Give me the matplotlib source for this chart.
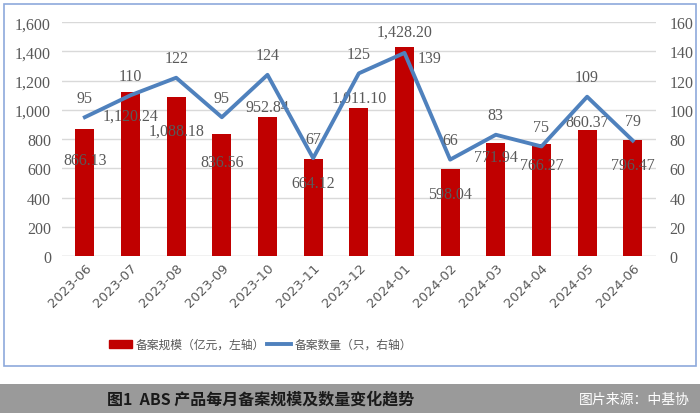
import matplotlib.pyplot as plt
from matplotlib.patches import Rectangle
from matplotlib.lines import Line2D

plt.rcParams['font.family'] = ['Noto Sans CJK SC', 'DejaVu Sans']

# data
months = ['2023-06', '2023-07', '2023-08', '2023-09', '2023-10', '2023-11', '2023-12',
          '2024-01', '2024-02', '2024-03', '2024-04', '2024-05', '2024-06']
scale = [866.13, 1120.24, 1088.18, 836.56, 952.84, 664.12, 1011.10,
         1428.20, 598.04, 771.94, 766.27, 860.37, 796.47]
count = [95, 110, 122, 95, 124, 67, 125, 139, 66, 83, 75, 109, 79]

# label offsets (points) to mimic the original placement
bar_dy = [-22, -17, -24, -20, 7, -17, 8, 11, -18, -10, -15, 6, -18]
line_off = [(0, 14), (0, 14), (0, 14), (0, 14), (0, 14), (0, 14), (0, 14),
            (18, -4), (0, 14), (0, 14), (0, 14), (0, 14), (0, 14)]

grey = '#595959'
bar_c = '#C00000'
line_c = '#4F81BD'
num_font = ['Liberation Serif', 'DejaVu Serif']

fig = plt.figure(figsize=(7, 4.14), dpi=100)
ax = fig.add_axes([0.0886, 0.379, 0.848, 0.565])
x = list(range(len(months)))

ax.bar(x, scale, width=0.42, color=bar_c, zorder=2)
ax.set_xlim(-0.5, len(months) - 0.5)
ax.set_ylim(0, 1600)
ax.set_yticks(range(0, 1601, 200))
ax.set_yticklabels([f'{v:,}' for v in range(0, 1601, 200)], family=num_font,
                   fontsize=11.5, color=grey)
ax.yaxis.grid(True, color='#D9D9D9', lw=1, zorder=0)
for s in ax.spines.values():
    s.set_visible(False)
ax.tick_params(axis='both', length=0)
ax.tick_params(axis='y', pad=8)
ax.set_xticks(x)
ax.set_xticklabels(months, rotation=45, ha='right', rotation_mode='anchor',
                   fontsize=9.5, color=grey, family=['DejaVu Sans'])
ax.axhline(0, color='#D9D9D9', lw=1, zorder=1)

for xi, v, dy in zip(x, scale, bar_dy):
    ax.annotate(f'{v:,.2f}', (xi, v), xytext=(0, dy), textcoords='offset points',
                ha='center', va='center', fontsize=11.5, color=grey, family=num_font,
                zorder=5)

ax2 = ax.twinx()
ax2.plot(x, count, color=line_c, lw=2.8, zorder=3)
ax2.set_ylim(0, 160)
ax2.set_yticks(range(0, 161, 20))
ax2.set_yticklabels([str(v) for v in range(0, 161, 20)], family=num_font,
                    fontsize=11.5, color=grey)
ax2.tick_params(axis='y', length=0, pad=10)
for s in ax2.spines.values():
    s.set_visible(False)
for xi, v, (ox, oy) in zip(x, count, line_off):
    ax2.annotate(str(v), (xi, v), xytext=(ox, oy), textcoords='offset points',
                 ha='center', va='center', fontsize=11.5, color=grey, family=num_font)

handles = [Rectangle((0, 0), 1, 1, color=bar_c),
           Line2D([0], [0], color=line_c, lw=2.8)]
fig.legend(handles, ['备案规模（亿元，左轴）', '备案数量（只，右轴）'],
           loc='center', bbox_to_anchor=(0.372, 0.166), ncol=2, frameon=False,
           fontsize=8.5, labelcolor=grey, handlelength=2.0, handletextpad=0.3,
           columnspacing=0.2)

# chart border
fig.patches.append(Rectangle((4 / 700, 1 - 367 / 414), 692 / 700, 362 / 414,
                             transform=fig.transFigure, fill=False,
                             edgecolor='#8EA9DB', lw=1.2))
# caption banner
fig.patches.append(Rectangle((0, 0), 1, 29 / 414, transform=fig.transFigure,
                             facecolor='#9A9A9A', edgecolor='none'))
fig.text(0.372, 14 / 414, '图1  ABS 产品每月备案规模及数量变化趋势', ha='center',
         va='center', fontsize=11.5, fontweight='bold', color='#1A1A1A')
fig.text(0.985, 14 / 414, '图片来源：中基协', ha='right', va='center',
         fontsize=10, color='white')

fig.savefig('out.png', dpi=100)
